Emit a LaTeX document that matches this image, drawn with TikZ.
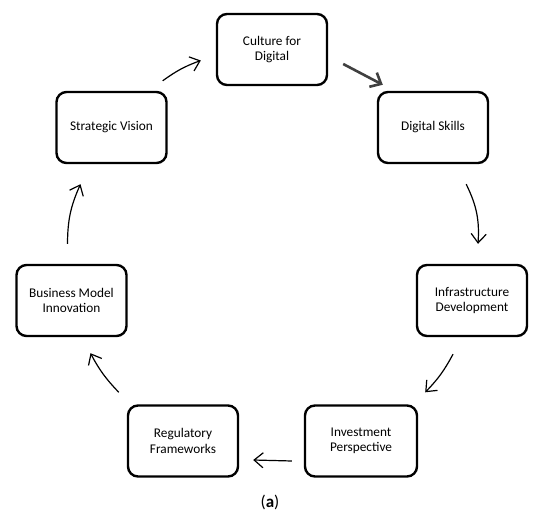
\documentclass[tikz,border=0pt]{standalone}
\usepackage{fontspec}
\setmainfont{Carlito}
\usetikzlibrary{arrows.meta, positioning}

\begin{document}
\begin{tikzpicture}[x=1pt, y=-1pt,
            stage/.style={draw=black, line width=2.4pt, rectangle, rounded corners=10pt, minimum width=110pt, minimum height=71pt, align=center, font=\fontsize{13.3}{15.5}\selectfont},
            flow/.style={line width=1.2pt, -{Straight Barb[length=9pt, width=15pt, line width=1.2pt]}},
            boldflow/.style={line width=2.6pt, draw=black!75, -{Straight Barb[length=9pt, width=16pt, line width=2.6pt]}},
            caption/.style={font=\fontsize{17}{20}\selectfont}
        ]
        \useasboundingbox (0,0) rectangle (550,524);

        % stages
        \node[stage] (cult) at (272,49.5) {Culture for\\Digital};
        \node[stage] (skills) at (433,127.5) {Digital Skills};
        \node[stage] (infra) at (472,300.5) {Infrastructure\\Development};
        \node[stage, minimum width=112pt] (invest) at (361,441) {Investment\\Perspective};
        \node[stage] (reg) at (183,441) {Regulatory\\Frameworks};
        \node[stage] (biz) at (71.5,300.5) {Business Model\\Innovation};
        \node[stage] (strat) at (111.5,127.5) {Strategic Vision};

        % cycle
        \draw[flow] ([xshift=-5pt,yshift=10pt]strat.north east) to[bend left=8] ([xshift=-15pt,yshift=-11pt]cult.west);
        \draw[boldflow] ([xshift=15pt,yshift=-14.5pt]cult.east) -- ([xshift=6pt,yshift=6pt]skills.north west);
        \draw[flow] ([xshift=-23pt,yshift=-20pt]skills.south east) to[bend left=15] ([xshift=6pt,yshift=20pt]infra.north);
        \draw[flow] ([xshift=-19pt,yshift=-17pt]infra.south) to[bend left=8] ([xshift=7pt,yshift=12pt]invest.north east);
        \draw[flow] ([xshift=-12pt,yshift=-20pt]invest.west) -- ([xshift=14pt,yshift=-19pt]reg.east);
        \draw[flow] ([xshift=-8pt,yshift=12pt]reg.north west) to[bend left=8] ([xshift=19pt,yshift=-16pt]biz.south);
        \draw[flow] ([xshift=-4pt,yshift=20pt]biz.north) to[bend left=12] ([xshift=-31pt,yshift=-20pt]strat.south);

        \node[caption] (lbl) at (270,502) {(\textbf{a})};

    \end{tikzpicture}
\end{document}
